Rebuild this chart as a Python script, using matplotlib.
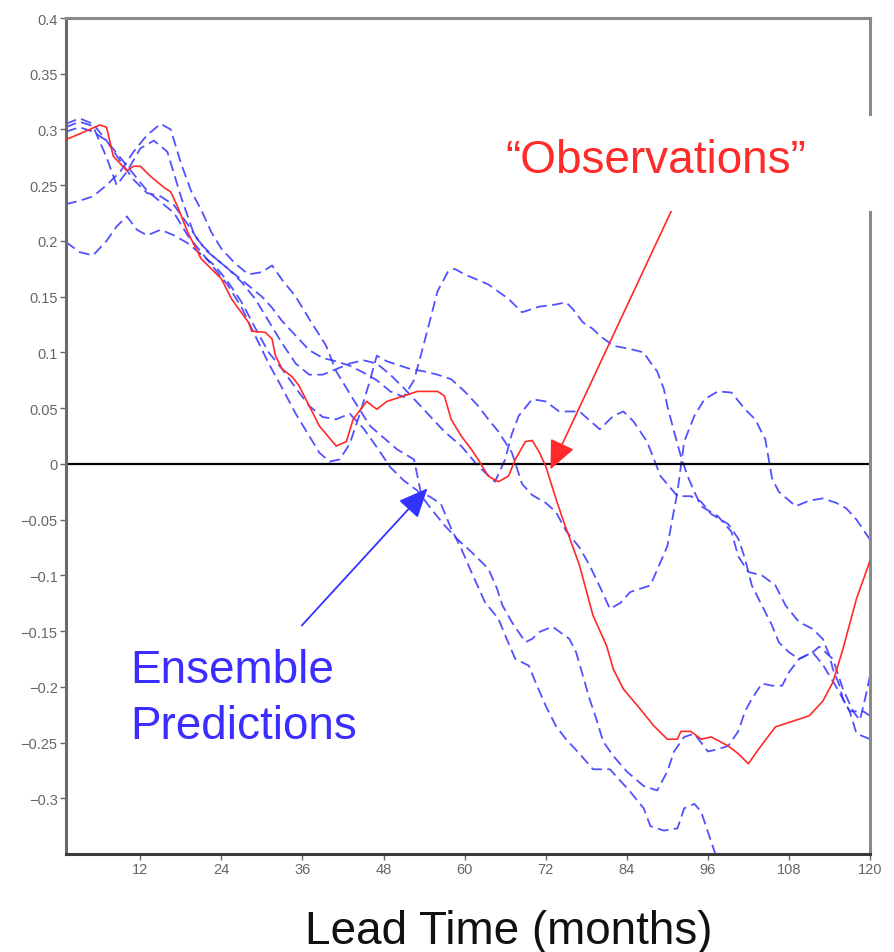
import matplotlib
matplotlib.use("Agg")
import matplotlib.pyplot as plt
from matplotlib.patches import Rectangle

# ---------------------------------------------------------------------------
# Data: lead time (months) and anomaly values
# ---------------------------------------------------------------------------
obs_month = [1, 3, 6, 7, 8, 10, 11, 12, 13.5, 15.5, 16.5, 17.5, 19, 21, 22.5, 24,
             25.5, 28, 28.5, 30.5, 31.5, 32, 33, 34.5, 35.5, 36.5, 38.5, 41, 42.5,
             43.5, 45, 45.5, 47, 48.5, 51, 53, 56, 57, 58, 59.5, 61, 62, 63.5, 65,
             66.5, 67.5, 69, 70, 71, 72, 73.5, 74.5, 77, 79, 81, 82, 83.5, 86, 88,
             90, 91.5, 92, 93.5, 95, 96.5, 99, 100.5, 102, 103.5, 106, 108.5, 111,
             113, 114.5, 116, 118, 120]
obs_value = [0.291, 0.296, 0.304, 0.302, 0.276, 0.263, 0.267, 0.267, 0.258, 0.248,
             0.244, 0.231, 0.208, 0.184, 0.175, 0.166, 0.148, 0.127, 0.119, 0.118,
             0.112, 0.097, 0.085, 0.078, 0.070, 0.058, 0.034, 0.016, 0.020, 0.040,
             0.052, 0.056, 0.049, 0.056, 0.061, 0.065, 0.065, 0.061, 0.040, 0.025,
             0.013, 0.004, -0.011, -0.016, -0.011, 0.004, 0.020, 0.021, 0.011, -0.002,
             -0.031, -0.049, -0.091, -0.136, -0.163, -0.184, -0.202, -0.220, -0.235,
             -0.247, -0.247, -0.240, -0.240, -0.247, -0.245, -0.253, -0.260, -0.269,
             -0.256, -0.236, -0.231, -0.226, -0.213, -0.196, -0.166, -0.121, -0.087]

m1_month = [1, 3, 5, 7, 8.5, 10, 12, 14, 16, 18, 20, 22, 24, 26, 28, 30, 31.5, 33,
            35, 37, 39, 41, 43, 45, 47, 49, 51, 52.5, 53.5, 54.5, 56, 57.5, 58.5, 60,
            63.5, 66.5, 68.5, 71, 73.5, 75, 76, 77.5, 79, 80, 82, 84.5, 86.5, 87.5,
            88.5, 89.5, 90, 91, 92, 93, 94, 95, 97.5, 99.5, 100.5, 102, 104, 106,
            107.5, 109.5, 111.5, 113, 114, 114.5, 115.5, 116, 117, 118, 120]
m1_value = [0.302, 0.307, 0.303, 0.275, 0.250, 0.262, 0.283, 0.290, 0.280, 0.240,
            0.205, 0.190, 0.180, 0.170, 0.160, 0.150, 0.140, 0.128, 0.115, 0.102,
            0.095, 0.092, 0.088, 0.082, 0.075, 0.065, 0.060, 0.075, 0.097, 0.120,
            0.155, 0.172, 0.175, 0.170, 0.161, 0.148, 0.136, 0.141, 0.143, 0.145,
            0.139, 0.127, 0.121, 0.115, 0.106, 0.103, 0.100, 0.091, 0.083, 0.067,
            0.052, 0.029, 0.007, -0.011, -0.025, -0.038, -0.047, -0.061, -0.083,
            -0.097, -0.100, -0.109, -0.127, -0.142, -0.148, -0.157, -0.172, -0.184,
            -0.199, -0.211, -0.222, -0.242, -0.247]

m2_month = [1, 3, 5, 7, 9, 11, 13, 15, 17, 19, 21, 23, 25, 27, 29, 31, 33, 35, 37,
            38.5, 40, 41.5, 43, 44.5, 46, 47, 48.5, 50, 52, 54, 56, 58, 60, 62, 63.5,
            65, 67, 68.5, 70, 72, 73.5, 75, 77, 78.5, 80, 81.5, 83, 84.5, 87.5, 90,
            91.5, 92.5, 94, 95.5, 97.5, 99.5, 101.5, 103, 104.5, 105.5, 106.5, 109,
            111, 113, 115, 116.5, 118, 120]
m2_value = [0.298, 0.302, 0.298, 0.290, 0.275, 0.260, 0.245, 0.235, 0.225, 0.205,
            0.190, 0.175, 0.160, 0.140, 0.115, 0.090, 0.068, 0.045, 0.025, 0.010,
            0.002, 0.004, 0.018, 0.045, 0.075, 0.097, 0.092, 0.089, 0.085, 0.083,
            0.080, 0.076, 0.065, 0.052, 0.040, 0.029, 0.010, -0.018, -0.028, -0.035,
            -0.043, -0.060, -0.075, -0.091, -0.110, -0.130, -0.125, -0.115, -0.109,
            -0.074, -0.025, 0.020, 0.043, 0.058, 0.065, 0.064, 0.049, 0.040, 0.022,
            -0.013, -0.025, -0.038, -0.033, -0.031, -0.035, -0.040, -0.050, -0.068]

m3_month = [1, 3, 5, 7, 9, 11, 13, 15, 16.5, 18, 19.5, 21, 22.5, 24, 26, 28, 30,
            31.5, 33, 35, 37, 39.5, 41, 43.5, 46, 50, 52.5, 53.5, 55, 56.5, 58, 59.5,
            61, 63, 65, 66.5, 67.5, 69.5, 70.5, 72, 73.5, 75, 77, 79, 81.5, 84.5,
            86.5, 87.5, 89.5, 91.5, 92.5, 94, 95, 96, 97, 97.8]
m3_value = [0.233, 0.236, 0.240, 0.250, 0.262, 0.280, 0.295, 0.305, 0.300, 0.270,
            0.245, 0.228, 0.208, 0.193, 0.180, 0.170, 0.172, 0.178, 0.165, 0.150,
            0.130, 0.106, 0.083, 0.058, 0.034, 0.013, 0.004, -0.025, -0.030, -0.036,
            -0.058, -0.076, -0.097, -0.124, -0.139, -0.161, -0.175, -0.181, -0.196,
            -0.217, -0.235, -0.247, -0.260, -0.274, -0.274, -0.294, -0.309, -0.325,
            -0.329, -0.327, -0.309, -0.305, -0.312, -0.330, -0.348, -0.365]

m4_month = [1, 3, 5, 7, 8.5, 10, 11.5, 13, 15, 17, 19, 21, 23, 25, 27, 29, 31, 33,
            35, 37, 39, 41, 43, 45, 47, 49, 51, 53, 55, 57, 59, 61, 63.5, 64.8, 65.6,
            67, 69, 70, 71, 73, 75.5, 76.5, 77.5, 78.5, 79.5, 80.5, 82, 84, 86.5,
            88.5, 90, 91, 92.5, 94, 96, 97.5, 99, 100.5, 101.5, 102.5, 104, 105.5,
            107, 108, 109.5, 111.5, 112.5, 114.5, 116, 117.5, 118.5, 119.3, 120]
m4_value = [0.199, 0.190, 0.187, 0.200, 0.213, 0.222, 0.210, 0.205, 0.210, 0.205,
            0.198, 0.188, 0.178, 0.163, 0.145, 0.122, 0.100, 0.085, 0.068, 0.052,
            0.042, 0.040, 0.045, 0.032, 0.015, -0.003, -0.015, -0.024, -0.040,
            -0.055, -0.068, -0.079, -0.094, -0.112, -0.127, -0.142, -0.160, -0.157,
            -0.151, -0.146, -0.157, -0.169, -0.190, -0.211, -0.229, -0.249, -0.262,
            -0.276, -0.289, -0.293, -0.276, -0.258, -0.245, -0.242, -0.258, -0.256,
            -0.253, -0.240, -0.222, -0.211, -0.197, -0.199, -0.199, -0.187, -0.175,
            -0.169, -0.164, -0.175, -0.202, -0.222, -0.230, -0.210, -0.190]

m5_month = [1, 3, 5, 7, 9, 11, 13, 15, 17, 19, 21, 23, 25, 27, 29, 31, 33, 35, 37,
            39, 41, 43, 45, 47, 49, 51, 53, 55, 57, 59.5, 62, 64.5, 66, 67, 68, 70,
            72, 74, 77, 80, 82, 83.5, 85, 87, 89, 91.5, 93.5, 95, 96.5, 99, 100.5,
            101.5, 102.5, 103.5, 104.5, 105.5, 106.5, 108, 109.5, 111.5, 113, 115,
            117, 119, 120]
m5_value = [0.305, 0.310, 0.305, 0.290, 0.272, 0.255, 0.243, 0.240, 0.232, 0.215,
            0.197, 0.185, 0.175, 0.163, 0.148, 0.128, 0.108, 0.090, 0.080, 0.080,
            0.085, 0.090, 0.093, 0.090, 0.080, 0.068, 0.055, 0.042, 0.029, 0.016,
            -0.002, -0.016, 0.004, 0.027, 0.043, 0.058, 0.056, 0.047, 0.047, 0.031,
            0.043, 0.047, 0.038, 0.020, -0.011, -0.029, -0.029, -0.034, -0.045,
            -0.054, -0.067, -0.085, -0.109, -0.121, -0.133, -0.145, -0.160, -0.169,
            -0.175, -0.169, -0.180, -0.200, -0.222, -0.222, -0.226]

x_ticks = [12, 24, 36, 48, 60, 72, 84, 96, 108, 120]
x_tick_labels = ["12", "24", "36", "48", "60", "72", "84", "96", "108", "120"]
y_ticks = [-0.3, -0.25, -0.2, -0.15, -0.1, -0.05, 0, 0.05, 0.1, 0.15, 0.2, 0.25,
           0.3, 0.35, 0.4]
y_tick_labels = ["\u22120.3", "\u22120.25", "\u22120.2", "\u22120.15", "\u22120.1",
                 "\u22120.05", "0", "0.05", "0.1", "0.15", "0.2", "0.25", "0.3",
                 "0.35", "0.4"]

# ---------------------------------------------------------------------------
# Figure
# ---------------------------------------------------------------------------
W, H = 895, 953
RED = "#ff2a2a"
BLUE = "#3333ff"
BLUE_TXT = "#3b2cff"
SANS = ["Liberation Sans", "DejaVu Sans"]
NARROW = ["Liberation Sans Narrow", "Liberation Sans", "DejaVu Sans"]

fig = plt.figure(figsize=(W / 100, H / 100), dpi=100)
fig.patch.set_facecolor("white")
ax = fig.add_axes([66 / W, 1 - 855 / H, (870 - 66) / W, (855 - 19) / H])
ax.set_xlim(1, 120)
ax.set_ylim(-0.35, 0.4)

members = [(m1_month, m1_value), (m2_month, m2_value), (m3_month, m3_value),
           (m4_month, m4_value), (m5_month, m5_value)]
for months, vals in members:
    ax.plot(months, vals, color=BLUE, lw=1.3, dashes=(6, 3), alpha=0.85, zorder=2)

ax.plot(obs_month, obs_value, color=RED, lw=1.2, zorder=3)
ax.axhline(0, color="black", lw=1.6, zorder=2.5)

ax.set_xticks(x_ticks)
ax.set_xticklabels(x_tick_labels)
ax.set_yticks(y_ticks)
ax.set_yticklabels(y_tick_labels)
ax.tick_params(direction="out", length=4, width=1, colors="#666666",
               labelsize=10.5, pad=2)
for lbl in ax.get_xticklabels() + ax.get_yticklabels():
    lbl.set_family(NARROW)
    lbl.set_color("#666666")

ax.spines["left"].set_color("#6a6a6a")
ax.spines["bottom"].set_color("#3a3a3a")
ax.spines["top"].set_color("#8a8a8a")
ax.spines["right"].set_color("#8a8a8a")
for sp in ax.spines.values():
    sp.set_linewidth(2.2)

# Arrows pointing at the observed and predicted curves
ax.annotate("", xy=(72.7, -0.005), xytext=(90.6, 0.227),
            arrowprops=dict(arrowstyle="-|>,head_length=0.9,head_width=0.4",
                            color=RED, lw=1.2, mutation_scale=20,
                            shrinkA=0, shrinkB=0), zorder=4)
ax.annotate("", xy=(54.5, -0.022), xytext=(35.9, -0.145),
            arrowprops=dict(arrowstyle="-|>,head_length=0.9,head_width=0.4",
                            color=BLUE, lw=1.3, mutation_scale=20,
                            shrinkA=0, shrinkB=0), zorder=4)

# White panel behind the observations label (it overlaps the frame)
fig.add_artist(Rectangle((480 / W, 1 - 212 / H), (888 - 480) / W, 95 / H,
                         transform=fig.transFigure, facecolor="white",
                         edgecolor="none", zorder=5))
fig.text(505 / W, 1 - 173 / H, "\u201cObservations\u201d", color=RED, fontsize=33,
         family=SANS, ha="left", va="baseline", zorder=6)

fig.text(130 / W, 1 - 683 / H, "Ensemble", color=BLUE_TXT, fontsize=33,
         family=SANS, ha="left", va="baseline")
fig.text(130 / W, 1 - 739 / H, "Predictions", color=BLUE_TXT, fontsize=33,
         family=SANS, ha="left", va="baseline")

fig.text(305 / W, 1 - 944 / H, "Lead Time (months)", color="#111111", fontsize=33,
         family=SANS, ha="left", va="baseline")

fig.savefig("out.png", dpi=100, facecolor="white")
